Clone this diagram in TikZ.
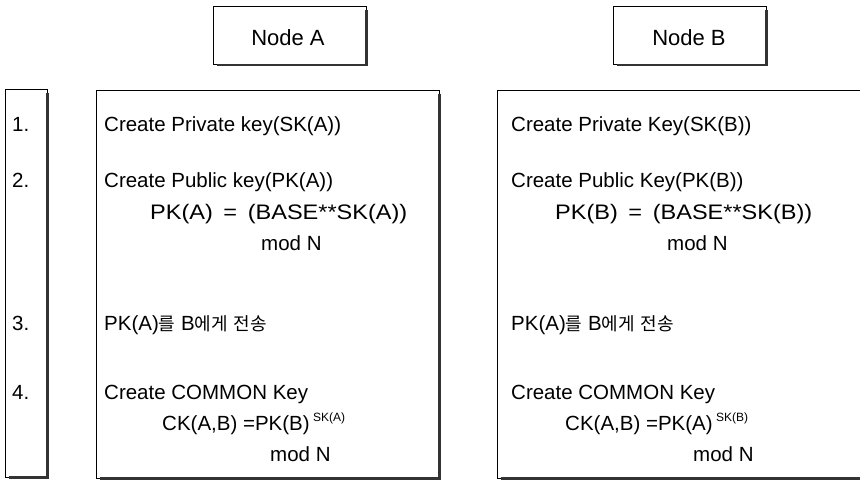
\documentclass[tikz,border=0pt]{standalone}
\usepackage{fontspec}
\setmainfont{Liberation Sans}
\newfontfamily\kr{Noto Sans CJK KR}
\newcommand{\hg}[1]{{\kr\fontsize{18}{21}\selectfont #1}}
\newcommand{\formula}[2]{\scalebox{1.12}[1]{\fontsize{21}{24}\selectfont #1\hspace{0.45em}=\hspace{0.45em}#2}}
\begin{document}
\begin{tikzpicture}[x=1pt,y=-1pt,
  box/.style={draw=black, line width=0.9pt, rectangle, inner sep=0pt},
  shadowline/.style={line width=2.6pt, draw=black!80},
  txt/.style={anchor=base west, inner sep=0pt, font=\fontsize{20.5}{24}\selectfont},
  head/.style={anchor=base, inner sep=0pt, font=\fontsize{22}{26}\selectfont}]
\useasboundingbox (0,0) rectangle (860,483);
% header boxes
\node[box, minimum width=153pt, minimum height=58pt] (na) at (289.5,35.5) {};
\node[box, minimum width=153pt, minimum height=58pt] (nb) at (689.5,35.5) {};
\draw[shadowline] ([yshift=-4pt]na.north east) -- (na.south east) -- ([xshift=4pt]na.south west);
\draw[shadowline] ([yshift=-4pt]nb.north east) -- (nb.south east) -- ([xshift=4pt]nb.south west);
\node[head] (la) at (288,45) {Node A};
\node[head] (lb) at (689,45) {Node B};
% step column
\node[box, minimum width=42pt, minimum height=388pt] (st) at (26,283) {};
\draw[shadowline] ([yshift=-4pt]st.north east) -- (st.south east) -- ([xshift=4pt]st.south west);
% main boxes
\node[box, minimum width=343pt, minimum height=388pt] (ba) at (267.5,284) {};
\draw[shadowline] ([yshift=-4pt]ba.north east) -- (ba.south east) -- ([xshift=4pt]ba.south west);
\node[box, minimum width=375pt, minimum height=388pt] (bb) at (684.5,284) {};
\draw[shadowline] (bb.south east) -- ([xshift=4pt]bb.south west);
% step numbers
\node[txt] (s1) at (12,131) {1.};
\node[txt] (s2) at (12,187) {2.};
\node[txt] (s3) at (12,330) {3.};
\node[txt] (s4) at (12,399) {4.};
% node A texts
\node[txt] (a1) at (104,131) {Create Private key(SK(A))};
\node[txt] (a2) at (104,187) {Create Public key(PK(A))};
\node[txt] (a3) at (150,219) {\formula{PK(A)}{(BASE**SK(A))}};
\node[txt] (a4) at (261,250) {mod N};
\node[txt] (a5) at (104,330) {PK(A)\hg{를} B\hg{에게}\hspace{6pt}\hg{전송}};
\node[txt] (a6) at (104,399) {Create COMMON Key};
\node[txt] (a7) at (162,430) {CK(A,B) =PK(B)\,\raisebox{9pt}{\fontsize{12}{12}\selectfont SK(A)}};
\node[txt] (a8) at (270,461) {mod N};
% node B texts
\node[txt] (b1) at (511,131) {Create Private Key(SK(B))};
\node[txt] (b2) at (511,187) {Create Public Key(PK(B))};
\node[txt] (b3) at (555,219) {\formula{PK(B)}{(BASE**SK(B))}};
\node[txt] (b4) at (667,250) {mod N};
\node[txt] (b5) at (511,330) {PK(A)\hg{를} B\hg{에게}\hspace{6pt}\hg{전송}};
\node[txt] (b6) at (511,399) {Create COMMON Key};
\node[txt] (b7) at (565,430) {CK(A,B) =PK(A)\,\raisebox{9pt}{\fontsize{12}{12}\selectfont SK(B)}};
\node[txt] (b8) at (693,461) {mod N};
\end{tikzpicture}
\end{document}
